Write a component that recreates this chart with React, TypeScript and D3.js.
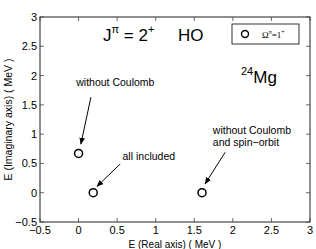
import React from "react";
import * as d3 from "d3";

const xTicks = [-0.5, 0, 0.5, 1, 1.5, 2, 2.5, 3];
const yTicks = [-0.5, 0, 0.5, 1, 1.5, 2, 2.5, 3];
const pointsX = [0, 0.19, 1.6];
const pointsY = [0.67, 0, 0];
const annotations = [
  { lines: ["without Coulomb"], tx: -0.03, ty: 1.82, x1: 0.16, y1: 1.63, x2: 0.03, y2: 0.83 },
  { lines: ["all included"], tx: 0.57, ty: 0.56, x1: 0.54, y1: 0.49, x2: 0.24, y2: 0.11 },
  { lines: ["without Coulomb", "and spin\u2212orbit"], tx: 1.74, ty: 1.0, x1: 1.9, y1: 0.69, x2: 1.64, y2: 0.15 },
];

const W = 316, H = 249;
const L = 40, R = 310, T = 17, B = 222;

export default function App() {
  const x = d3.scaleLinear().domain([-0.5, 3]).range([L, R]);
  const y = d3.scaleLinear().domain([-0.5, 3]).range([B, T]);
  const font = "'Liberation Sans', Arial, Helvetica, sans-serif";
  const tl = 4;
  return (
    <svg width={W} height={H} style={{ position: "absolute", left: 0, top: 0 }} fontFamily={font}>
      <defs>
        <marker id="ah" viewBox="0 0 10 10" refX="9" refY="5" markerWidth="7" markerHeight="7" orient="auto" markerUnits="userSpaceOnUse">
          <path d="M0,1 L10,5 L0,9 z" fill="#000" />
        </marker>
      </defs>
      <rect x={0} y={0} width={W} height={H} fill="#fff" />
      {/* ticks */}
      {xTicks.map((t, i) => (
        <g key={"x" + i}>
          <line x1={x(t)} x2={x(t)} y1={B} y2={B - tl} stroke="#000" strokeWidth={0.6} />
          <line x1={x(t)} x2={x(t)} y1={T} y2={T + tl} stroke="#000" strokeWidth={0.6} />
          <text x={x(t)} y={B + 12} fontSize={11} textAnchor="middle" fill="#000">
            {t < 0 ? "\u2212" + Math.abs(t) : String(t)}
          </text>
        </g>
      ))}
      {yTicks.map((t, i) => (
        <g key={"y" + i}>
          <line x1={L} x2={L + tl} y1={y(t)} y2={y(t)} stroke="#000" strokeWidth={0.6} />
          <line x1={R} x2={R - tl} y1={y(t)} y2={y(t)} stroke="#000" strokeWidth={0.6} />
          <text x={L - 3} y={y(t) + 4} fontSize={11} textAnchor="end" fill="#000">
            {t < 0 ? "\u2212" + Math.abs(t) : String(t)}
          </text>
        </g>
      ))}
      <rect x={L} y={T} width={R - L} height={B - T} fill="none" stroke="#444" strokeWidth={1.2} />
      {/* axis labels */}
      <text x={(L + R) / 2} y={247.5} fontSize={10} textAnchor="middle" fill="#000">E (Real axis) ( MeV )</text>
      <text transform={`translate(12, ${(T + B) / 2}) rotate(-90)`} fontSize={10.5} textAnchor="middle" fill="#000">
        E (Imaginary axis) ( MeV )
      </text>
      {/* title */}
      <text x={103} y={41} fontSize={17} fill="#000">
        J<tspan dy={-8} fontSize={11}>π</tspan><tspan dy={8}> = 2</tspan><tspan dy={-8} fontSize={11}>+</tspan>
      </text>
      <text x={178} y={41} fontSize={17} fill="#000">HO</text>
      <text x={241} y={83} fontSize={17} fill="#000">
        <tspan dy={-8} fontSize={11}>24</tspan><tspan dy={8}>Mg</tspan>
      </text>
      {/* legend */}
      <rect x={232} y={24} width={67} height={20} fill="#fff" stroke="#000" strokeWidth={0.8} />
      <circle cx={245} cy={34} r={3.5} fill="none" stroke="#000" strokeWidth={1.4} />
      <text x={262} y={38} fontSize={9} fontFamily="'Liberation Serif', serif" fill="#000">
        Ω<tspan dy={-4} fontSize={6}>π</tspan><tspan dy={4}>=1</tspan><tspan dy={-4} fontSize={6}>+</tspan>
      </text>
      {/* annotations */}
      {annotations.map((a, i) => (
        <g key={"a" + i}>
          {a.lines.map((ln, j) => (
            <text key={j} x={x(a.tx)} y={y(a.ty) + j * 11.5} fontSize={10.5} fill="#000">{ln}</text>
          ))}
          <line x1={x(a.x1)} y1={y(a.y1)} x2={x(a.x2)} y2={y(a.y2)} stroke="#000" strokeWidth={1} markerEnd="url(#ah)" />
        </g>
      ))}
      {/* points */}
      {pointsX.map((px, i) => (
        <circle key={"p" + i} cx={x(px)} cy={y(pointsY[i])} r={4} fill="none" stroke="#000" strokeWidth={1.5} />
      ))}
    </svg>
  );
}
